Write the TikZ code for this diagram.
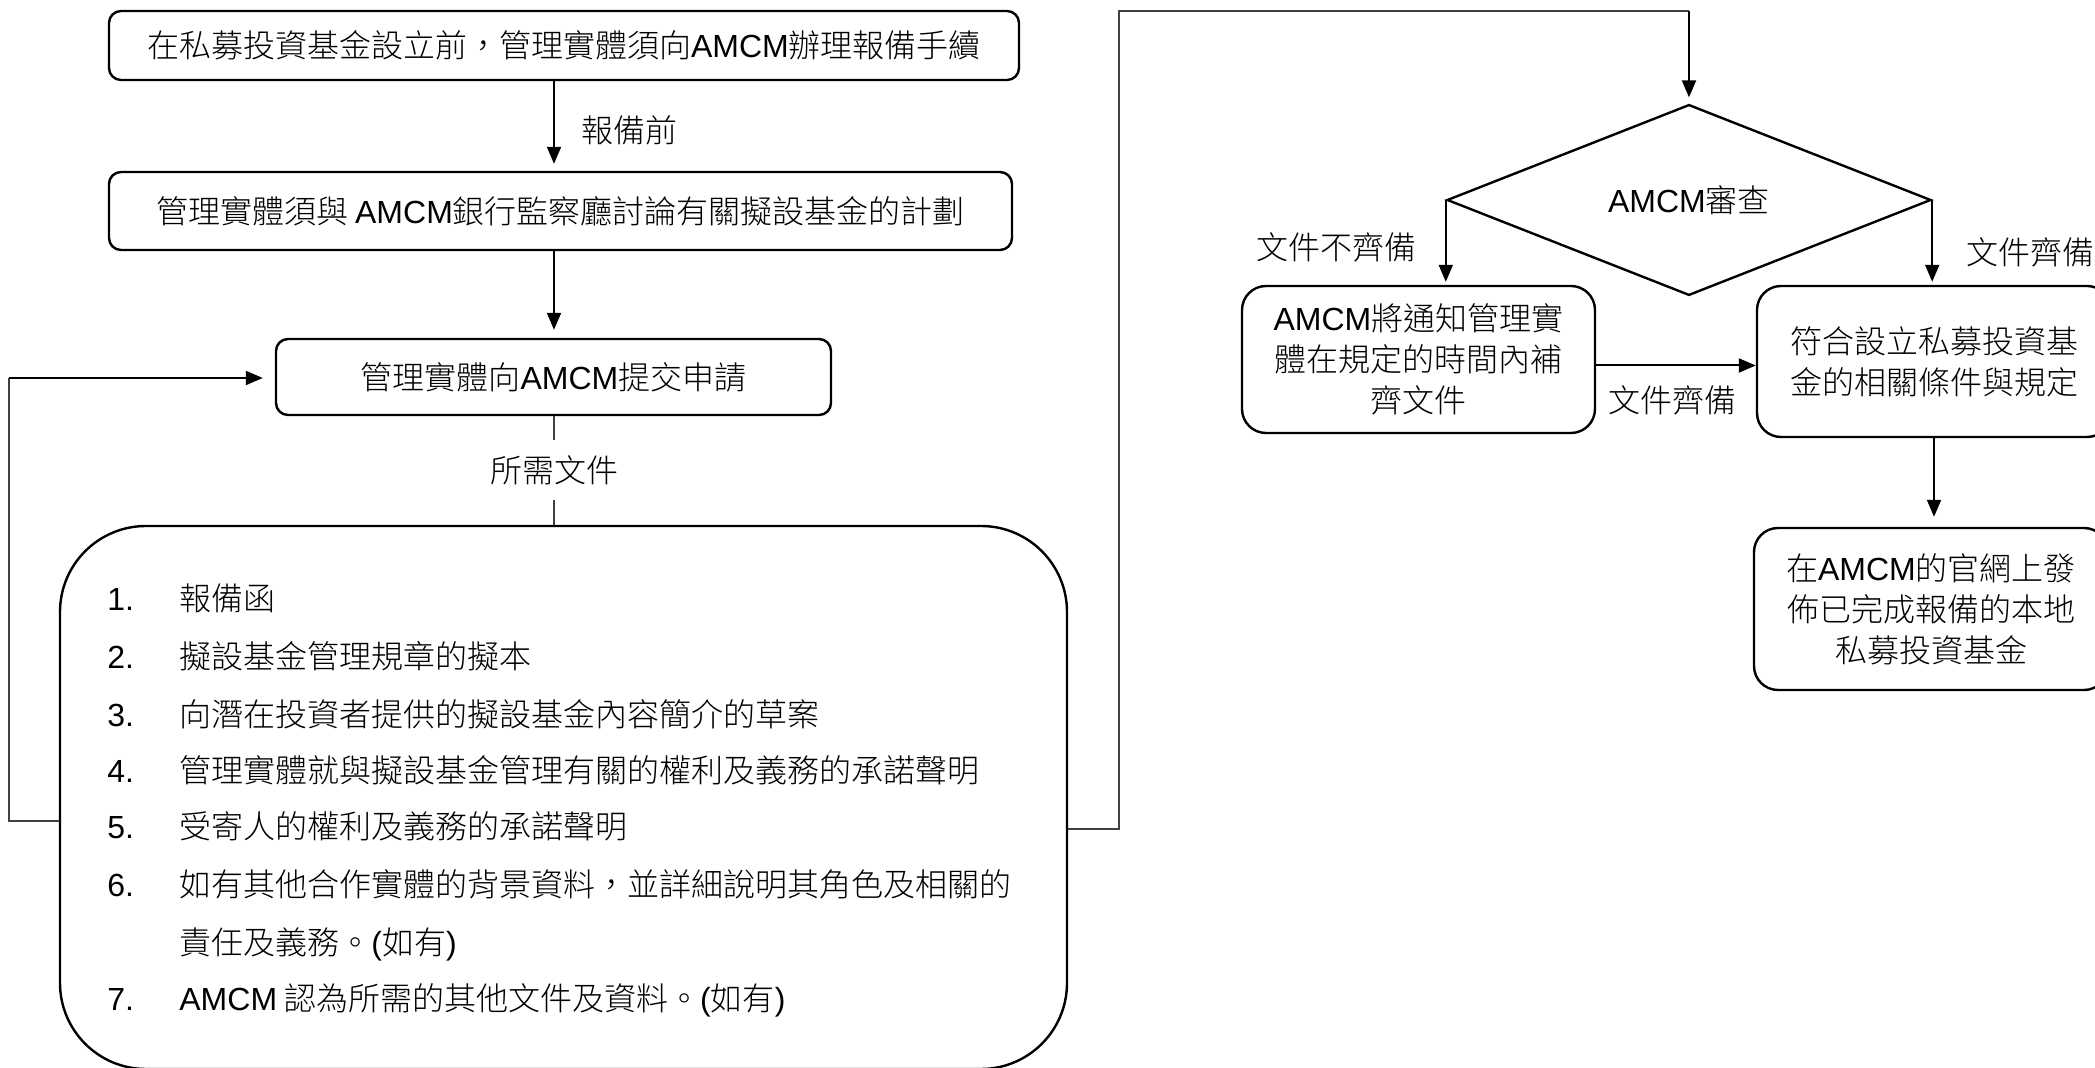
\documentclass[tikz,border=0pt]{standalone}
\usepackage{fontspec}
\setmainfont{Noto Sans CJK TC}[UprightFont=* Light]
\newfontfamily\lat{Liberation Sans}
\usetikzlibrary{arrows.meta,shapes.geometric}
\newcommand\amcm{{\lat AMCM}}
\newcommand\fs{\fontsize{16pt}{20.5pt}\selectfont}
\newcommand\num[1]{\makebox[36pt][l]{\lat #1}}
\tikzset{
  box/.style={draw, line width=1.2pt, rounded corners=6pt, align=center, inner sep=0pt, font=\fs},
  arr/.style={line width=1pt, -{Triangle[length=8.5pt,width=7pt]}},
  loopl/.style={line width=0.65pt, draw=black!75},
  lbl/.style={font=\fs, inner sep=0pt},
  item/.style={anchor=west, font=\fs, inner sep=0pt}
}
\begin{document}
\begin{tikzpicture}[x=0.5pt,y=-0.5pt]
\useasboundingbox (0,0) rectangle (2095,1068);
\clip (0,0) rectangle (2095,1068);
% left column
\node[box, minimum width=455pt, minimum height=34.5pt] (b1) at (564,45.5) {在私募投資基金設立前，管理實體須向\amcm 辦理報備手續};
\node[box, minimum width=451.5pt, minimum height=39pt] (b2) at (560.5,211) {管理實體須與 \amcm 銀行監察廳討論有關擬設基金的計劃};
\node[box, minimum width=277.5pt, minimum height=38pt] (b3) at (553.5,377) {管理實體向\amcm 提交申請};
\coordinate (ax) at (554,0);
\draw[arr, shorten >=3.5pt] (b1.south -| ax) -- (b2.north -| ax);
\node[lbl] (l1) at (629,130) {報備前};
\draw[arr, shorten >=4pt] (b2.south -| ax) -- (b3.north -| ax);
\node[lbl, minimum height=29.5pt] (l2) at (554,470) {所需文件};
\node[draw, line width=1.2pt, rounded corners=43pt, minimum width=503.5pt, minimum height=271.5pt, inner sep=0pt] (b4) at (563.5,797.5) {};
\draw[loopl] (b3.south -| l2) -- (l2.north);
\draw[loopl] (l2.south) -- (l2.south |- b4.north);
% list
\node[item] (i1) at (107,598) {\num{1.}報備函};
\node[item] (i2) at (107,656) {\num{2.}擬設基金管理規章的擬本};
\node[item] (i3) at (107,714) {\num{3.}向潛在投資者提供的擬設基金內容簡介的草案};
\node[item] (i4) at (107,770) {\num{4.}管理實體就與擬設基金管理有關的權利及義務的承諾聲明};
\node[item] (i5) at (107,826) {\num{5.}受寄人的權利及義務的承諾聲明};
\node[item] (i6) at (107,884) {\num{6.}如有其他合作實體的背景資料，並詳細說明其角色及相關的};
\node[item] (i6b) at (107,944) {\num{}責任及義務。{\lat (}如有{\lat )}};
\node[item] (i7) at (107,1000) {\num{7.}\amcm{} 認為所需的其他文件及資料。{\lat (}如有{\lat )}};
% right column
\node[draw, diamond, line width=1.2pt, minimum width=242pt, minimum height=76pt, inner sep=0pt, font=\fs] (dia) at (1689,200) {\amcm 審查};
\node[box, rounded corners=12pt, minimum width=176.5pt, minimum height=73.5pt] (b5) at (1418.5,359.5) {\amcm 將通知管理實\\體在規定的時間內補\\齊文件};
\node[box, rounded corners=12pt, minimum width=177pt, minimum height=75.5pt] (b6) at (1934,361.5) {符合設立私募投資基\\金的相關條件與規定};
\node[box, rounded corners=12pt, minimum width=177pt, minimum height=81pt] (b7) at (1931,609) {在\amcm 的官網上發\\佈已完成報備的本地\\私募投資基金};
\draw[arr, shorten >=1.5pt] (dia.west) -- (dia.west |- b5.north);
\draw[arr, shorten >=1.5pt] (dia.east) -- (dia.east |- b6.north);
\node[lbl] (l3) at (1336,247) {文件不齊備};
\node[lbl, anchor=west] (l4) at (1966,252) {文件齊備};
\draw[arr] ([yshift=-3pt]b5.east) -- ([yshift=-3pt]b5.east -| b6.west);
\node[lbl] (l5) at (1672,400) {文件齊備};
\draw[arr, shorten >=5pt] (b6.south) -- (b6.south |- b7.north);
% loops
\coordinate (ll) at (9,821);
\coordinate (lt) at (9,378);
\draw[loopl] (b4.west |- ll) -- (ll) -- (lt);
\draw[arr, shorten >=6pt] (lt) -- (lt -| b3.west);
\coordinate (rr) at (1119,829);
\coordinate (rt) at (1119,11);
\draw[loopl] (b4.east |- rr) -- (rr) -- (rt) -- (rt -| dia.north);
\draw[arr, shorten >=3pt] (rt -| dia.north) -- (dia.north);
\end{tikzpicture}
\end{document}
